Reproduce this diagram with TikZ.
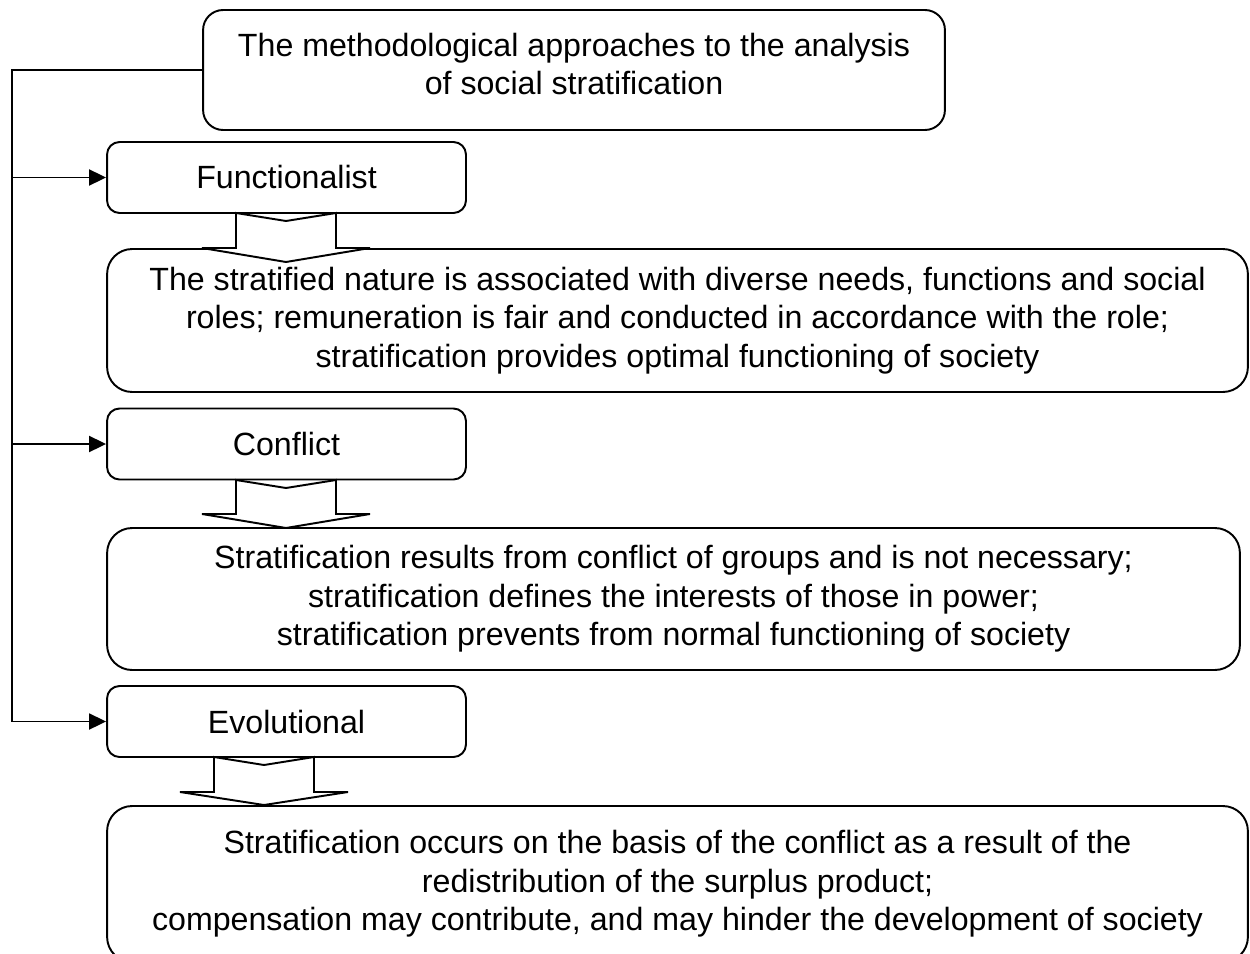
\documentclass[tikz,border=0pt]{standalone}
\usepackage{fontspec}
\setmainfont{Liberation Sans}
\usetikzlibrary{arrows.meta}

\tikzset{
  box/.style={draw, line width=1.1pt, fill=white, align=center, inner sep=0pt},
  headbox/.style={box, rounded corners=0.4cm},
  kindbox/.style={box, rounded corners=0.25cm, minimum width=7.18cm, minimum height=1.42cm},
  descbox/.style={box, rounded corners=0.5cm},
  flow/.style={line width=1.1pt, -{Triangle[length=0.34cm, width=0.32cm]}},
  wide/.style={line width=1.1pt, fill=white, line join=miter}
}

\begin{document}
\begin{tikzpicture}[x=0.02cm, y=-0.02cm, every node/.style={font=\fontsize{18.3}{22}\selectfont}]
  \useasboundingbox (0,0) rectangle (1250,953);
  \clip (0,0) rectangle (1250,953);
  % headings
  \node[headbox, minimum width=14.84cm, minimum height=2.4cm] (top) at (574,70) {};
  \node (topText) at (574,64) [align=center]
    {The methodological approaches to the analysis\\of social stratification};
  \node[kindbox] (func) at (286.5,177.5) {Functionalist};
  \node[kindbox] (conf) at (286.5,444) {Conflict};
  \node[kindbox] (evol) at (286.5,721.5) {Evolutional};
  % descriptions
  \node[descbox, minimum width=22.82cm, minimum height=2.86cm] (funcD) at (677.5,320.5)
    {The stratified nature is associated with diverse needs, functions and social\\
     roles; remuneration is fair and conducted in accordance with the role;\\
     stratification provides optimal functioning of society};
  \node[descbox, minimum width=22.66cm, minimum height=2.84cm] (confD) at (673.5,599)
    {Stratification results from conflict of groups and is not necessary;\\
     stratification defines the interests of those in power;\\
     stratification prevents from normal functioning of society};
  \node[descbox, minimum width=22.82cm, minimum height=3.12cm] (evolD) at (677.5,884)
    {Stratification occurs on the basis of the conflict as a result of the\\
     redistribution of the surplus product;\\
     compensation may contribute, and may hinder the development of society};
  % rail on the left
  \coordinate (rail) at (12,70);
  \draw[flow] (top.west) -- (rail) |- (evol.west);
  \foreach \n in {func,conf}
    \draw[flow] (rail |- \n.west) -- (\n.west);
  % wide arrows
  \foreach \cx/\ty/\wy/\tip/\hs/\hw in {286/213/248/262/50/84, 286/480/514/528/50/84, 264/757/792/805/50/84}
    \draw[wide] (\cx-\hs,\ty) -- (\cx,\ty+8) -- (\cx+\hs,\ty) -- (\cx+\hs,\wy)
      -- (\cx+\hw,\wy) -- (\cx,\tip) -- (\cx-\hw,\wy) -- (\cx-\hs,\wy) -- cycle;
\end{tikzpicture}
\end{document}
